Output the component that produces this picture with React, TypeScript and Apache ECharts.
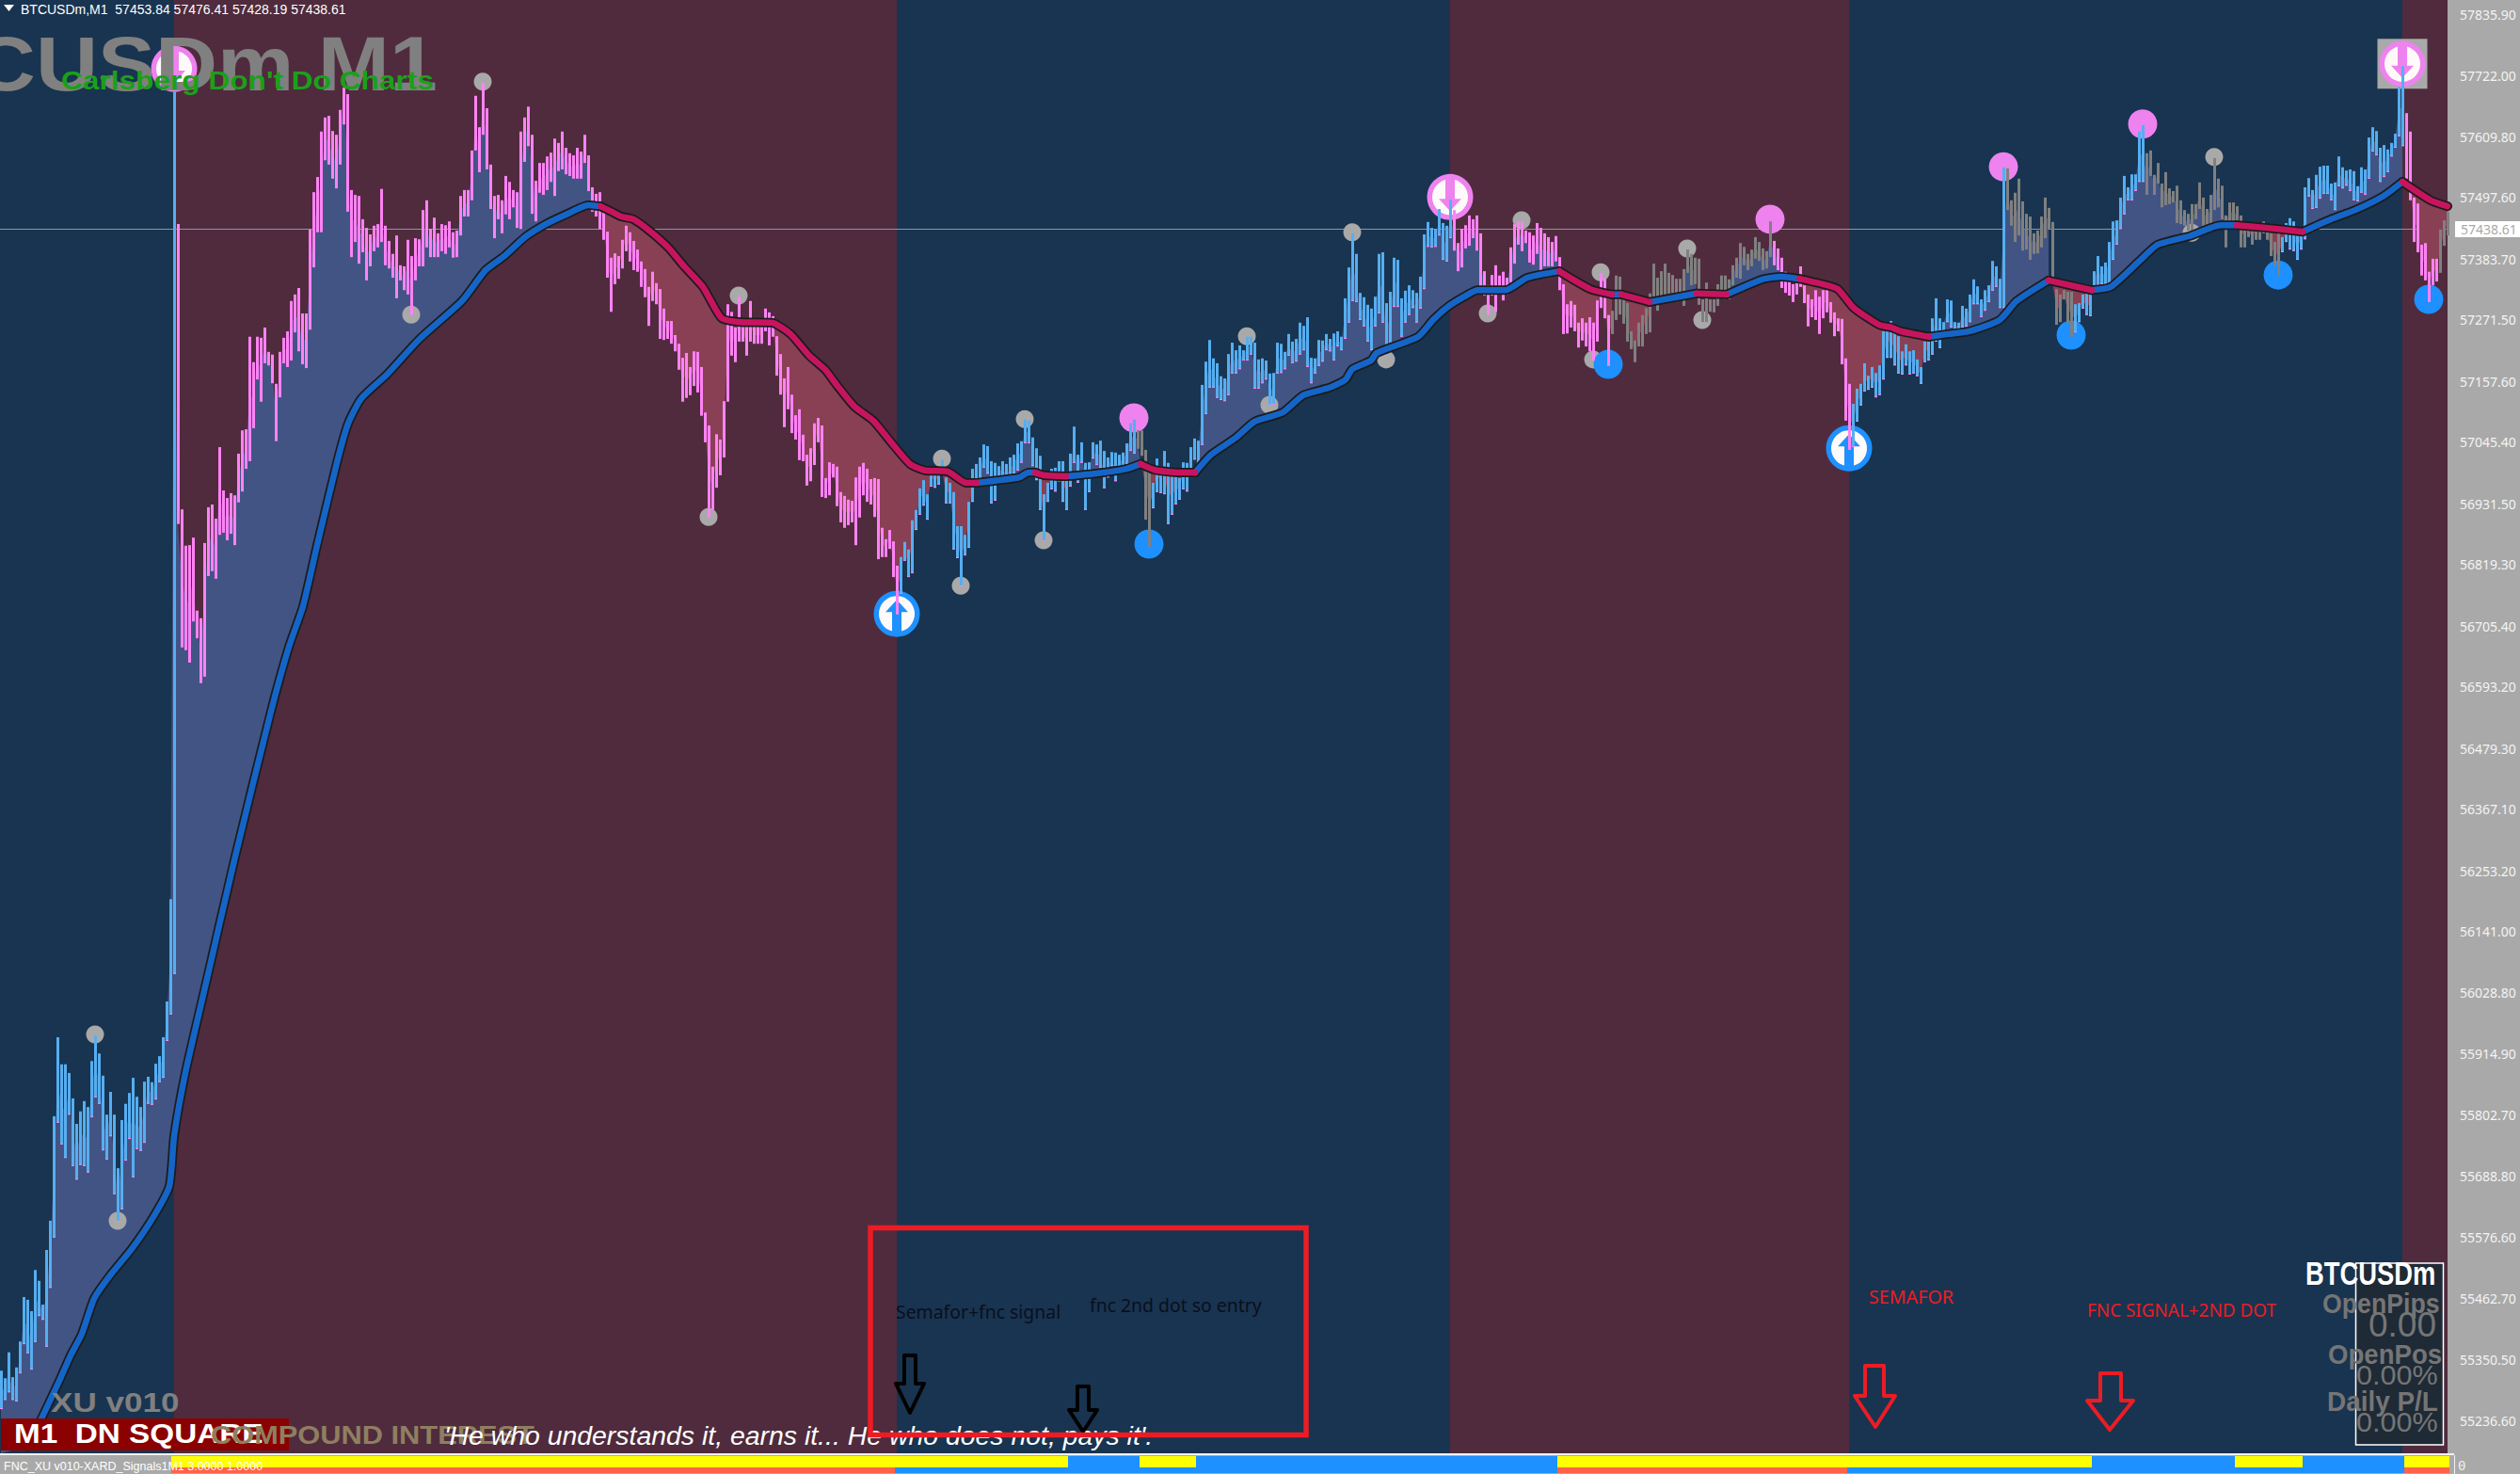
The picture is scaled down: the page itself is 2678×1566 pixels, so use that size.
import React, { useEffect, useRef } from "react";
import * as echarts from "echarts";

const priceTicks = [57835.9, 57722.0, 57609.8, 57497.6, 57383.7, 57271.5, 57157.6, 57045.4, 56931.5, 56819.3, 56705.4, 56593.2, 56479.3, 56367.1, 56253.2, 56141.0, 56028.8, 55914.9, 55802.7, 55688.8, 55576.6, 55462.7, 55350.5, 55236.6];
const lastPrice = 57438.61;

const barHighs = [
55330,55316,55364,55318,55336,55384,55466,55461,55440,55516,55496,55452,55553,55607,55800,55946,55896,55896,55880,55833,
55786,55809,55828,55817,55902,55949,55916,55875,55803,55845,55803,55704,55793,55823,55843,55871,55836,55817,55864,55873,
55863,55897,55911,55946,56012,56201,57693,57448,56921,56854,56855,56869,56734,56720,56859,56925,56930,56904,57036,56956,
56942,56951,56947,57024,57067,57069,57240,57193,57240,57238,57257,57212,57207,57153,57212,57238,57250,57306,57318,57330,
57283,57283,57438,57507,57535,57619,57645,57648,57620,57613,57659,57700,57688,57511,57502,57500,57457,57441,57429,57445,
57448,57513,57445,57417,57393,57427,57372,57370,57419,57389,57422,57420,57474,57492,57439,57460,57431,57448,57446,57453,
57433,57436,57500,57511,57511,57584,57685,57627,57709,57662,57558,57500,57502,57492,57537,57526,57511,57507,57619,57645,
57665,57613,57528,57561,57561,57573,57580,57606,57598,57619,57589,57579,57575,57589,57582,57613,57575,57516,57504,57507,
57471,57434,57386,57394,57389,57419,57445,57433,57417,57401,57379,57365,57332,57360,57339,57328,57292,57269,57269,57243,
57227,57201,57210,57184,57213,57212,57184,57100,57076,57000,57060,57050,57121,57300,57286,57257,57314,57262,57262,57306,
57259,57259,57259,57292,57285,57278,57241,57208,57163,57184,57133,57095,57106,57059,57022,57034,57080,57090,57076,56979,
57008,57005,57000,56953,56946,56939,56937,56980,57000,57007,56996,56977,56979,56977,56887,56866,56883,56862,56817,56833,
56861,56847,56901,56920,56960,56975,56949,56984,56998,56984,57013,56980,56970,56953,56890,56890,56874,56935,56996,57005,
57017,57041,57038,57010,57007,57001,57010,57005,57017,57022,57043,57047,57087,57085,57054,57034,57020,56949,56970,56996,
56998,57010,57010,56987,57024,57074,57022,57045,57007,57008,57045,57041,57048,57029,57017,57027,57026,57022,57026,57043,
57080,57087,57067,57067,57031,57007,56970,57015,57001,57029,57007,56982,56984,56979,57008,57007,57036,57052,57048,57151,
57194,57234,57200,57191,57167,57163,57208,57229,57215,57224,57215,57240,57240,57229,57198,57200,57196,57172,57173,57229,
57227,57212,57245,57231,57236,57266,57260,57276,57201,57200,57234,57233,57245,57236,57246,57250,57240,57311,57368,57431,
57393,57321,57313,57299,57292,57314,57393,57396,57302,57323,57386,57382,57311,57325,57335,57326,57321,57351,57429,57452,
57441,57439,57476,57450,57445,57493,57474,57413,57439,57446,57464,57457,57464,57431,57361,57335,57354,57372,57353,57360,
57349,57405,57448,57453,57452,57436,57433,57427,57450,57441,57431,57424,57415,57426,57387,57337,57300,57306,57299,57266,
57274,57266,57276,57266,57307,57358,57347,57280,57288,57353,57351,57318,57302,57250,57233,57266,57280,57293,57320,57375,
57349,57361,57375,57358,57354,57347,57347,57365,57401,57393,57386,57384,57309,57340,57309,57309,57337,57353,57353,57346,
57372,57386,57413,57406,57393,57401,57424,57415,57403,57398,57453,57417,57403,57386,57360,57346,57337,57346,57370,57335,
57318,57309,57326,57314,57326,57326,57304,57285,57274,57273,57200,57153,57116,57144,57153,57191,57168,57184,57173,57187,
57250,57250,57269,57250,57241,57213,57226,57213,57215,57198,57184,57231,57236,57274,57311,57274,57267,57309,57307,57267,
57266,57297,57292,57318,57346,57333,57309,57326,57335,57380,57370,57347,57553,57551,57492,57506,57532,57490,57467,57462,
57431,57436,57462,57497,57478,57452,57328,57318,57326,57323,57323,57300,57302,57318,57320,57318,57361,57389,57370,57377,
57415,57453,57455,57497,57537,57516,57540,57540,57619,57631,57579,57584,57539,57561,57523,57544,57514,57509,57519,57492,
57474,57467,57485,57485,57525,57497,57476,57502,57570,57532,57519,57464,57488,57488,57481,57464,57450,57450,57439,57450,
57450,57453,57441,57431,57415,57433,57424,57450,57459,57453,57427,57439,57516,57533,57511,57539,57554,57556,57556,57523,
57525,57573,57553,57547,57549,57546,57518,57553,57549,57608,57627,57620,57589,57594,57586,57598,57615,57702,57740,57653,
57619,57497,57486,57410,57413,57360,57384,57384,57438,57455,57471,
];

const barLows = [
55259,55276,55290,55276,55273,55325,55379,55362,55332,55383,55431,55424,55374,55483,55576,55788,55748,55723,55803,55708,
55683,55710,55708,55696,55798,55835,55823,55737,55720,55763,55656,55605,55628,55718,55758,55687,55739,55736,55751,55823,
55821,55831,55863,55871,55939,55988,56063,56894,56666,56661,56638,56714,56683,56600,56612,56798,56807,56793,56874,56878,
56864,56876,56855,56934,56954,56996,57010,57071,57161,57120,57191,57187,57154,57047,57128,57191,57184,57196,57248,57213,
57189,57182,57253,57368,57433,57433,57566,57558,57532,57514,57558,57632,57471,57387,57415,57375,57396,57344,57370,57398,
57405,57415,57372,57366,57349,57311,57344,57326,57318,57280,57344,57370,57370,57405,57387,57387,57387,57398,57393,57405,
57386,57387,57427,57462,57462,57492,57584,57544,57613,57549,57476,57422,57457,57431,57466,57457,57479,57441,57439,57563,
57592,57467,57453,57506,57502,57511,57526,57500,57546,57549,57540,57537,57532,57532,57532,57561,57509,57471,57462,57439,
57419,57349,57286,57337,57347,57366,57398,57379,57363,57360,57332,57313,57260,57306,57300,57236,57234,57236,57227,57213,
57179,57120,57127,57132,57149,57137,57094,57045,56906,56920,56961,56984,57017,57120,57205,57193,57231,57231,57205,57231,
57227,57227,57227,57250,57224,57240,57168,57133,57073,57106,57062,57050,57012,57010,56965,56973,57003,57045,56944,56942,
56947,56980,56927,56897,56887,56892,56897,56855,56906,56947,56935,56930,56907,56829,56833,56833,56848,56796,56727,56765,
56826,56796,56803,56883,56911,56928,56902,56963,56961,56967,56998,56932,56932,56847,56831,56779,56836,56850,56935,56963,
56963,56998,56987,56932,56937,56979,56979,56970,56970,56987,56993,57007,57043,57043,57001,56975,56920,56862,56935,56958,
56954,56973,56935,56920,56963,57007,56970,57007,56920,56953,57015,57003,56998,56960,56980,57001,56973,56993,57001,57005,
57029,57024,57033,57020,56902,56852,56923,56953,56951,56949,56894,56911,56930,56939,56958,56954,56996,57013,56996,57040,
57097,57146,57146,57127,57123,57121,57132,57172,57172,57180,57196,57196,57207,57144,57144,57154,57161,57113,57114,57172,
57173,57180,57205,57191,57194,57207,57215,57184,57154,57172,57186,57194,57215,57213,57196,57222,57215,57236,57266,57306,
57304,57271,57259,57231,57215,57259,57283,57266,57205,57224,57295,57295,57240,57266,57280,57293,57266,57292,57328,57406,
57405,57406,57427,57382,57379,57422,57399,57361,57368,57403,57408,57422,57399,57332,57316,57280,57316,57286,57318,57307,
57318,57340,57375,57410,57398,57413,57377,57373,57393,57363,57370,57370,57370,57379,57326,57245,57246,57257,57250,57220,
57233,57222,57213,57196,57231,57293,57274,57186,57245,57271,57281,57264,57231,57217,57193,57222,57222,57245,57248,57314,
57288,57309,57318,57316,57316,57304,57306,57297,57358,57335,57337,57299,57267,57267,57286,57285,57297,57323,57309,57309,
57335,57349,57347,57372,57363,57370,57384,57380,57363,57366,57387,57372,57363,57330,57321,57316,57304,57318,57332,57302,
57259,57276,57271,57245,57274,57285,57266,57241,57250,57189,57085,57031,57036,57083,57113,57139,57142,57146,57128,57132,
57161,57201,57201,57187,57172,57170,57187,57170,57172,57167,57153,57193,57196,57207,57231,57219,57250,57267,57257,57253,
57253,57257,57259,57267,57300,57300,57276,57288,57304,57325,57332,57293,57293,57474,57445,57415,57427,57399,57401,57382,
57393,57394,57405,57422,57438,57349,57262,57267,57309,57266,57240,57248,57267,57292,57280,57278,57323,57335,57337,57337,
57339,57382,57410,57439,57466,57492,57492,57509,57526,57526,57502,57537,57502,57523,57479,57483,57485,57488,57450,57448,
57445,57436,57436,57457,57476,57445,57445,57450,57474,57479,57457,57405,57450,57453,57450,57405,57405,57424,57410,57419,
57419,57431,57419,57389,57370,57353,57396,57415,57401,57398,57382,57401,57420,57499,57476,57478,57495,57504,57504,57492,
57474,57518,57514,57519,57509,57492,57490,57506,57502,57532,57582,57575,57526,57535,57544,57573,57589,57610,57592,57532,
57492,57415,57396,57353,57344,57304,57335,57342,57358,57408,57427,
];

const barKindRuns = [[0, 0], [47, 1], [239, 0], [302, 2], [306, 0], [386, 1], [428, 2], [471, 1], [492, 0], [533, 2], [551, 0], [570, 2], [606, 0], [639, 1], [648, 2]];

const maBlueSegments = [
  [[7,55190],[11,55245],[15.5,55311],[18.5,55358],[21.5,55398],[24.75,55463],[29,55506],[34.75,55555],[40.5,55614],[44.75,55671],[46,55763],[49,55880],[54.75,56054],[62.25,56280],[71.75,56548],[76.5,56667],[80.25,56742],[84,56855],[89.25,57007],[92.25,57080],[95.75,57126],[102.5,57170],[111.25,57236],[122.5,57306],[128.75,57363],[133.75,57389],[139.25,57424],[144.75,57448],[150.5,57467],[156,57483],[159.25,57481]],
  [[259.25,56970],[270.5,56980],[273,56989],[274.75,56989]],
  [[283,56982],[290.5,56987],[299,56996],[302.75,57005]],
  [[317.25,56989],[321.5,57022],[328,57053],[333,57083],[340.5,57100],[346,57132],[353,57146],[357.25,57161],[359,57180],[364,57196],[365.5,57210],[376.5,57240],[380.5,57271],[384.75,57297],[389.75,57318],[392.25,57326],[399.75,57326],[405.5,57349],[414,57361]],
  [[428,57318],[430.5,57318]],
  [[438,57304],[450.5,57320]],
  [[458.5,57318],[468,57346],[473,57351],[477.75,57347]],
  [[512.25,57240],[517.25,57245],[523,57250],[531,57271],[535.5,57306],[544,57344]],
  [[555.5,57326],[560.5,57332],[568,57379],[573,57410],[581.5,57426],[589.75,57446],[594,57446]],
  [[611.5,57434],[619,57457],[625.5,57474],[633,57500],[638,57526]],
];

const maRedSegments = [
  [[159.25,57481],[162.25,57471],[164.75,57462],[168,57457],[172.25,57436],[177.25,57405],[181.5,57370],[186.5,57332],[191.5,57274],[196.5,57267],[204.75,57266],[209.75,57245],[214.75,57205],[219,57179],[222.25,57149],[226.75,57111],[231.75,57085],[236.5,57045],[241.5,57005],[245.5,56993],[251.5,56991],[256.5,56970],[259.25,56970]],
  [[274.75,56989],[277.25,56984],[283,56982]],
  [[302.75,57005],[306.5,56994],[313,56989],[317.25,56989]],
  [[414,57361],[422.25,57328],[428,57318]],
  [[430.5,57318],[438,57304]],
  [[450.5,57320],[458.5,57318]],
  [[477.75,57347],[484,57337],[488,57328],[492.25,57293],[499,57262],[502.25,57257],[504.75,57250],[512.25,57240]],
  [[544,57344],[555.5,57326]],
  [[594,57446],[602.25,57441],[611.5,57434]],
  [[638,57526],[645.5,57492],[650,57481]],
];

const fillRegions = [[0,159.25,0],[159.25,259.25,1],[259.25,274.75,0],[274.75,283,1],[283,302.75,0],[302.75,317.25,1],[317.25,414,0],[414,428,1],[430.5,438,1],[447,450.5,0],[458.5,477.75,0],[477.75,512.25,1],[512.25,544,0],[544,555.5,1],[555.5,594,0],[594,611.5,1],[611.5,638,0],[638,650,1]];
const fillEdgeOverrides = { 46: 57375, 47: 56894 };

const grayDots = [[25,55951],[31,55607],[128,57711],[109,57281],[196,57316],[188,56907],[250,57015],[255,56780],[272,57088],[277,56864],[331,57241],[337,57114],[359,57433],[368,57198],[404,57455],[395,57283],[425,57359],[423,57198],[448,57403],[452,57271],[582,57432],[588,57572]];
const pinkDots = [[301,57090],[470,57457],[532,57554],[569,57633]];
const blueDots = [[305,56857],[427,57189],[550,57243],[605,57354],[645,57309]];
const upSignals = [[238,56728],[491,57034]];
const downSignals = [[46,57735],[385,57498],[638,57744]];
const boxedSignals = [[638,57744]];

const sessionBands = [[-0.25,46,0],[46,238,1],[238,385,0],[385,491,1],[491,638,0],[638,650,1]];
const upperStripe = [[45.25,283.5,0],[283.5,302.5,1],[302.5,317.5,0],[317.5,413.5,1],[413.5,555.5,0],[555.5,593.5,1],[593.5,611.5,0],[611.5,638.5,1],[638.5,650.5,0]];
const lowerStripe = [[45.25,237.5,2],[237.5,413.5,1],[413.5,490.5,2],[490.5,638.5,1],[638.5,650.5,2]];

const BAR_COLORS = ["#56aef0", "#ff82f5", "#808080"];
const BAND_COLORS = ["#183450", "#502b3d"];
const FILL_COLORS = ["#425484", "#894054"];
const STRIPE_COLORS = ["#ffff00", "#1e90ff", "#ff6347"];
const SANS = '"Liberation Sans"';

const allKnots = [...maBlueSegments, ...maRedSegments].flat().sort((a, b) => a[0] - b[0]);
function maAt(i: number) {
  for (let k = 1; k < allKnots.length; k++) {
    if (i <= allKnots[k][0]) {
      const [x0, y0] = allKnots[k - 1];
      const [x1, y1] = allKnots[k];
      return x1 === x0 ? y1 : y0 + ((i - x0) / (x1 - x0)) * (y1 - y0);
    }
  }
  return allKnots[allKnots.length - 1][1];
}
function kindOf(i: number) {
  let kind = 0;
  for (const [start, k] of barKindRuns) if (i >= start) kind = k;
  return kind;
}

const barRows = barHighs.map((h, i) => [i, h, barLows[i], kindOf(i)]);

function spanItem(params: any, api: any, top: number, bottom: number, colors: string[]) {
  const a = api.coord([api.value(0), top]);
  const b = api.coord([api.value(1), bottom]);
  return { type: "rect", shape: { x: a[0], y: a[1], width: b[0] - a[0], height: b[1] - a[1] }, style: { fill: colors[api.value(2)] } };
}

function t(text: string, x: number, y: number, font: string, fill: string, extra: any = {}, scaleX = 1, z = 40) {
  return { type: "text", x, y, scaleX, z, silent: true, style: { text, font, fill, textVerticalAlign: "middle", textAlign: "left", ...extra } };
}
function arrow(points: number[][], stroke: string) {
  return { type: "polygon", z: 44, silent: true, shape: { points }, style: { fill: "none", stroke, lineWidth: 4, lineJoin: "round" } };
}
function maLine(data: number[][], color: string, width: number, z: number) {
  return { type: "line", xAxisIndex: 0, yAxisIndex: 0, data, z, silent: true, showSymbol: false, symbol: "none", smooth: 0.2, lineStyle: { color, width, cap: "round", join: "round" } };
}
function dots(data: number[][], size: any, color: string, z: number, symbol: string = "circle", offset: number[] = [0, 0]) {
  return { type: "scatter", xAxisIndex: 0, yAxisIndex: 0, data, z, silent: true, symbol, symbolSize: size, symbolOffset: offset, itemStyle: { color, opacity: 1 } };
}

const DOWN_ARROW = "path://M19 2H29V26H36L24 39L12 26H19Z";
const UP_ARROW = "path://M19 37H29V13H36L24 0L12 13H19Z";

const graphicElements: any[] = [
  { type: "polygon", z: 40, silent: true, shape: { points: [[4, 5], [15, 5], [9.5, 12]] }, style: { fill: "#ffffff" } },
  t("BTCUSDm,M1  57453.84 57476.41 57428.19 57438.61", 22, 10, `14px ${SANS}`, "#ffffff", {}, 1.0),
  t("CUSDm M1", 465, 68, `bold 81px ${SANS}`, "#808080", { textAlign: "right", shadowColor: "#222222", shadowOffsetX: 2, shadowOffsetY: 2, shadowBlur: 0 }, 1.13, 30),
  t("Carlsberg Don't Do Charts", 65, 85, `bold 28px ${SANS}`, "#1aa01a", {}, 1.13, 31),
  t("XU v010", 54, 1489, `bold 30px ${SANS}`, "#808080", {}, 1.17),
  { type: "rect", z: 40, silent: true, shape: { x: 1, y: 1507, width: 306, height: 34 }, style: { fill: "#8b0000" } },
  t("M1  DN SQUARE", 15, 1523, `bold 30px ${SANS}`, "#ffffff", {}, 1.11, 41),
  t("COMPOUND INTEREST", 224, 1524, `bold 28px ${SANS}`, "#8e7f60", {}, 1.1, 42),
  t("'He who understands it, earns it... He who does not, pays it'.", 472, 1525, `italic 28px ${SANS}`, "#ffffff", {}, 1.015, 43),
  { type: "rect", z: 45, silent: true, shape: { x: 925, y: 1304.5, width: 463, height: 220 }, style: { fill: "none", stroke: "#ed1c24", lineWidth: 5.5 } },
  t("Semafor+fnc signal", 952, 1393, `20px "Noto Sans"`, "#0a0f1e", {}, 0.97, 44),
  t("fnc 2nd dot so entry", 1158, 1386, `20px "Noto Sans"`, "#0a0f1e", {}, 0.97, 44),
  arrow([[961, 1440], [973, 1440], [973, 1470], [982, 1470], [967, 1501], [952, 1470], [961, 1470]], "#000000"),
  arrow([[1145, 1473], [1157, 1473], [1157, 1498], [1166, 1498], [1151, 1521], [1136, 1498], [1145, 1498]], "#000000"),
  t("SEMAFOR", 1986, 1377, `20px "Noto Sans"`, "#ed1c24", {}, 0.985, 44),
  t("FNC SIGNAL+2ND DOT", 2218, 1391, `20px "Noto Sans"`, "#ed1c24", {}, 0.945, 44),
  arrow([[1982, 1451], [2002, 1451], [2002, 1483], [2014, 1483], [1993, 1516], [1971, 1483], [1982, 1483]], "#ed1c24"),
  arrow([[2232, 1459], [2254, 1459], [2254, 1488], [2267, 1488], [2242, 1519], [2218, 1488], [2232, 1488]], "#ed1c24"),
  { type: "rect", z: 40, silent: true, shape: { x: 2503.5, y: 1342, width: 93, height: 193 }, style: { fill: "#1e2a36", stroke: "#ffffff", lineWidth: 1.5 } },
  t("BTCUSDm", 2450, 1353, `bold 36px ${SANS}`, "#ffffff", { shadowColor: "#2a6fc0", shadowOffsetX: -1, shadowOffsetY: 0, shadowBlur: 0 }, 0.76, 42),
  t("OpenPips", 2468, 1384, `bold 30px ${SANS}`, "#757575", {}, 0.89, 41),
  t("0.00", 2517, 1407, `37px ${SANS}`, "#757575", {}, 1.0, 41),
  t("OpenPos", 2474, 1439, `bold 30px ${SANS}`, "#757575", {}, 0.92, 41),
  t("0.00%", 2504, 1461, `30px ${SANS}`, "#757575", {}, 1.02, 41),
  t("Daily P/L", 2473, 1489, `bold 30px ${SANS}`, "#757575", {}, 0.93, 41),
  t("0.00%", 2504, 1511, `30px ${SANS}`, "#757575", {}, 1.02, 41),
  { type: "rect", z: 39, silent: true, shape: { x: 2609, y: 235, width: 69, height: 17 }, style: { fill: "#ffffff" } },
  t(lastPrice.toFixed(2), 2615, 243.5, `14px "Noto Sans"`, "#a9a9a9", {}, 1.0, 40),
  { type: "line", z: 39, silent: true, shape: { x1: 0, y1: 1545, x2: 2608, y2: 1545 }, style: { stroke: "#f2f2f2", lineWidth: 2 } },
  { type: "line", z: 39, silent: true, shape: { x1: 2608.5, y1: 1546, x2: 2608.5, y2: 1566 }, style: { stroke: "#f2f2f2", lineWidth: 1 } },
  t("FNC_XU v010-XARD_Signals1M1 3.0000 1.0000", 4, 1558, `12.5px ${SANS}`, "#ffffff", {}, 1.0, 41),
  t("0", 2612, 1557, `14px "DejaVu Sans Mono"`, "#eeeeee", {}, 1.0, 41),
];

function buildOption(): any {
  return {
    animation: false,
    backgroundColor: "#a9a9a9",
    grid: [
      { left: 0, top: 0, width: 2601, height: 1544, containLabel: false },
      { left: 0, top: 1547, width: 2604, height: 18, containLabel: false },
    ],
    xAxis: [
      { type: "value", gridIndex: 0, min: -0.25, max: 650, show: false },
      { type: "value", gridIndex: 1, min: -0.25, max: 650.75, show: false },
    ],
    yAxis: [
      {
        type: "value", gridIndex: 0, position: "right", offset: 6, min: 55177.4, max: 57862,
        splitLine: { show: false },
        axisLine: { show: true, lineStyle: { color: "#ffffff", width: 1 } },
        axisTick: { show: true, length: 4, customValues: priceTicks, lineStyle: { color: "#ffffff", width: 1 } },
        axisLabel: { show: true, customValues: priceTicks, margin: 7, color: "#f4f4f4", fontFamily: "Noto Sans", fontSize: 14, formatter: (v: number) => v.toFixed(2) },
      },
      { type: "value", gridIndex: 1, min: 0, max: 3, show: false },
    ],
    graphic: { elements: graphicElements },
    series: [
      {
        type: "custom", xAxisIndex: 0, yAxisIndex: 0, z: 1, silent: true, data: sessionBands, encode: { x: [0, 1] },
        renderItem: (p: any, api: any) => spanItem(p, api, 57862, 55177.4, BAND_COLORS),
      },
      {
        type: "line", xAxisIndex: 0, yAxisIndex: 0, z: 2, silent: true, symbol: "none", showSymbol: false,
        data: [[-0.25, lastPrice], [650, lastPrice]], lineStyle: { color: "#8a98a6", width: 1 },
      },
      {
        type: "custom", xAxisIndex: 0, yAxisIndex: 0, z: 3, silent: true, data: fillRegions, encode: { x: [0, 1] },
        renderItem: (_p: any, api: any) => {
          const s = api.value(0), e = api.value(1), kind = api.value(2);
          const top: number[][] = [[s, maAt(s)]];
          for (let i = Math.ceil(s); i <= Math.floor(e); i++) {
            const mid = (fillEdgeOverrides as any)[i] ?? (barHighs[i] + barLows[i]) / 2;
            const base = maAt(i);
            top.push([i, kind === 0 ? Math.max(mid, base) : Math.min(mid, base)]);
          }
          top.push([e, maAt(e)]);
          const base = allKnots.filter((k) => k[0] > s && k[0] < e).reverse();
          const pts = [...top, ...base];
          if (s === 0) pts.push([0, 55177.4]);
          return {
            type: "polygon",
            shape: { points: pts.map((q) => api.coord(q)) },
            style: { fill: FILL_COLORS[kind] },
          };
        },
      },
      dots(boxedSignals, 53, "#a9a9a9", 4, "rect"),
      dots(grayDots, 19, "#a9a9a9", 4),
      dots(pinkDots, 31, "#ee82ee", 4),
      dots(blueDots, 31, "#1e90ff", 4),
      dots(upSignals, 49, "#1e90ff", 4),
      dots(downSignals, 49, "#ee82ee", 4),
      dots([...upSignals, ...downSignals], 38, "#fffafa", 5),
      dots(upSignals, [24, 37], "#1e90ff", 6, UP_ARROW, [0, 3.5]),
      dots(downSignals, [24, 37], "#ee82ee", 6, DOWN_ARROW, [0, -3.5]),
      {
        type: "custom", xAxisIndex: 0, yAxisIndex: 0, z: 7, silent: true, data: barRows, encode: { x: 0, y: [1, 2] },
        renderItem: (_p: any, api: any) => {
          const a = api.coord([api.value(0), api.value(1)]);
          const b = api.coord([api.value(0), api.value(2)]);
          const kind = api.value(3);
          const x = Math.round(a[0] - 1);
          const children: any[] = [
            { type: "rect", shape: { x, y: a[1], width: 3, height: b[1] - a[1] }, style: { fill: BAR_COLORS[kind] } },
          ];
          if (kind === 0) children.push({ type: "rect", shape: { x, y: b[1] - 1, width: 3, height: 1 }, style: { fill: BAR_COLORS[1] } });
          return { type: "group", children };
        },
      },
      ...[...maBlueSegments, ...maRedSegments].map((seg) => maLine(seg, "#1c1c1c", 10, 8)),
      ...maBlueSegments.map((seg) => maLine(seg, "#1565c8", 6.5, 9)),
      ...maRedSegments.map((seg) => maLine(seg, "#c8145f", 6.5, 10)),
      {
        type: "custom", xAxisIndex: 1, yAxisIndex: 1, z: 3, silent: true, data: upperStripe, encode: { x: [0, 1] },
        renderItem: (p: any, api: any) => spanItem(p, api, 3, 1, STRIPE_COLORS),
      },
      {
        type: "custom", xAxisIndex: 1, yAxisIndex: 1, z: 3, silent: true, data: lowerStripe, encode: { x: [0, 1] },
        renderItem: (p: any, api: any) => spanItem(p, api, 1, 0, STRIPE_COLORS),
      },
    ],
  };
}

export default function App() {
  const ref = useRef<HTMLDivElement>(null);
  useEffect(() => {
    document.body.style.margin = "0";
    const chart = echarts.init(ref.current!, undefined, { renderer: "svg", width: 2678, height: 1566 });
    chart.setOption(buildOption());
    return () => chart.dispose();
  }, []);
  return <div ref={ref} style={{ position: "absolute", left: 0, top: 0, width: 2678, height: 1566, overflow: "hidden" }} />;
}
